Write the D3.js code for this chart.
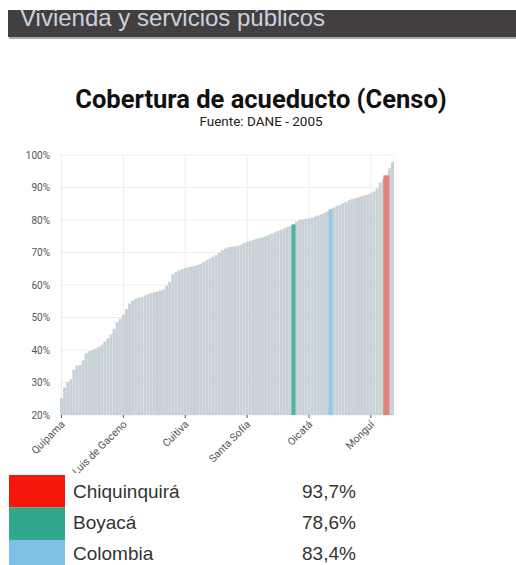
<!DOCTYPE html>
<html>
<head>
<meta charset="UTF-8">
<script src="https://d3js.org/d3.v7.min.js"></script>
<style>
  body { margin: 0; background: #fff; }
  svg { display: block; }
  text { font-family: Roboto, "Liberation Sans", sans-serif; }
</style>
</head>
<body>
<svg id="chart" width="516" height="565"></svg>
<script>
// coverage per municipality, sorted (percent)
const values = [
  25.2, 28.5, 30.2, 31.0, 34.0, 35.2, 35.4, 36.8, 39.0, 39.6,
  40.0, 40.4, 40.9, 41.6, 42.6, 43.6, 44.8, 46.5, 48.6, 49.6,
  50.8, 52.6, 54.3, 55.2, 55.8, 56.1, 56.3, 56.8, 57.2, 57.5,
  57.8, 58.0, 58.3, 58.6, 59.8, 61.0, 63.3, 64.0, 64.5, 64.9,
  65.2, 65.5, 65.7, 65.9, 66.1, 66.5, 67.1, 67.7, 68.2, 68.7,
  69.2, 69.9, 70.7, 71.2, 71.6, 71.8, 71.9, 72.0, 72.4, 72.9,
  73.3, 73.6, 73.9, 74.2, 74.4, 74.7, 75.0, 75.4, 75.8, 76.2,
  76.6, 77.0, 77.4, 77.8, 78.2, 78.6, 79.5, 80.0, 80.2, 80.4,
  80.5, 80.8, 81.1, 81.4, 81.8, 82.2, 82.7, 83.4, 83.8, 84.3,
  84.6, 85.1, 85.6, 86.1, 86.4, 86.7, 87.0, 87.3, 87.6, 87.9,
  88.2, 88.8, 89.7, 91.5, 92.6, 93.7, 95.9, 97.9
]

const tickNames = ['Quípama', 'San Luis de Gaceno', 'Cuítiva', 'Santa Sofía', 'Oicatá', 'Monguí']
const tickIndex = [0, 20, 40, 60, 80, 100]
const yTicks = [20, 30, 40, 50, 60, 70, 80, 90, 100]

const highlightNames = ['Chiquinquirá', 'Boyacá', 'Colombia']
const highlightIndex = [105, 75, 87]
const highlightLabels = ['93,7%', '78,6%', '83,4%']
const barColors = ['#e2827b', '#4db699', '#93cbe4']
const boxColors = ['#f5160c', '#30a88d', '#7cc0e6']

const svg = d3.select('#chart')

// header band
svg.append('clipPath').attr('id', 'hdr')
  .append('rect').attr('x', 8).attr('y', 10).attr('width', 508).attr('height', 27)
svg.append('rect')
  .attr('x', 9).attr('y', 12).attr('width', 507).attr('height', 27)
  .style('fill', '#aaa')
svg.append('rect')
  .attr('x', 8).attr('y', 10).attr('width', 508).attr('height', 27)
  .style('fill', '#433e40')
svg.append('text')
  .attr('clip-path', 'url(#hdr)')
  .attr('x', 20).attr('y', 26)
  .style('font-family', '"Liberation Sans", Arial, sans-serif')
  .style('font-size', '24px')
  .style('fill', '#c9d2de')
  .text('Vivienda y servicios públicos')

// titles
svg.append('text')
  .attr('x', 261).attr('y', 108)
  .attr('text-anchor', 'middle')
  .style('font-size', '25.5px').style('font-weight', 'bold').style('fill', '#111')
  .text('Cobertura de acueducto (Censo)')
svg.append('text')
  .attr('x', 261).attr('y', 126)
  .attr('text-anchor', 'middle')
  .style('font-size', '13.5px').style('fill', '#222')
  .text('Fuente: DANE - 2005')

// plot area
const plotLeft = 60, plotRight = 394, plotTop = 155, plotBottom = 415

const xScale = d3.scaleBand()
  .domain(d3.range(values.length))
  .range([plotLeft, plotRight])
  .paddingInner(0.03)

const yScale = d3.scaleLinear()
  .domain([20, 100])
  .range([plotBottom, plotTop])

svg.append('clipPath').attr('id', 'chartclip')
  .append('rect').attr('x', 0).attr('y', 40).attr('width', 516).attr('height', 433)

const g = svg.append('g').attr('clip-path', 'url(#chartclip)')

// gridlines
g.append('g').selectAll('line')
  .data(yTicks).enter().append('line')
  .attr('x1', plotLeft).attr('x2', plotRight)
  .attr('y1', d => yScale(d)).attr('y2', d => yScale(d))
  .style('stroke', '#ececec').style('stroke-width', 1)

g.append('g').selectAll('line')
  .data(tickIndex).enter().append('line')
  .attr('x1', d => xScale(d) + xScale.bandwidth() / 2)
  .attr('x2', d => xScale(d) + xScale.bandwidth() / 2)
  .attr('y1', plotTop).attr('y2', plotBottom)
  .style('stroke', '#ececec').style('stroke-width', 1)

// bars
g.append('g').selectAll('rect')
  .data(values).enter().append('rect')
  .attr('x', (d, i) => xScale(i))
  .attr('width', xScale.bandwidth())
  .attr('y', d => yScale(d))
  .attr('height', d => plotBottom - yScale(d))
  .style('fill', (d, i) => {
    const h = highlightIndex.indexOf(i)
    return h >= 0 ? barColors[h] : '#c8d1d6'
  })

// highlighted bars drawn a touch wider, as in the picture
g.append('g').selectAll('rect')
  .data(highlightIndex).enter().append('rect')
  .attr('x', (d, i) => xScale(d) - (i == 0 ? 1.5 : 0.5))
  .attr('width', (d, i) => xScale.bandwidth() + (i == 0 ? 3 : 1))
  .attr('y', d => yScale(values[d]))
  .attr('height', d => plotBottom - yScale(values[d]))
  .style('fill', (d, i) => barColors[i])

// y axis labels
g.append('g').selectAll('text')
  .data(yTicks).enter().append('text')
  .attr('x', 50).attr('y', d => yScale(d) + 3.5)
  .attr('text-anchor', 'end')
  .style('font-size', '10px').style('fill', '#555')
  .text(d => d + '%')

// x axis ticks + labels
g.append('g').selectAll('line')
  .data(tickIndex).enter().append('line')
  .attr('x1', d => xScale(d) + xScale.bandwidth() / 2)
  .attr('x2', d => xScale(d) + xScale.bandwidth() / 2)
  .attr('y1', plotBottom).attr('y2', plotBottom + 3)
  .style('stroke', '#555')

g.append('g').selectAll('text')
  .data(tickIndex).enter().append('text')
  .attr('transform', d => 'translate(' + (xScale(d) + xScale.bandwidth() / 2 + 4) + ',' + (plotBottom + 10) + ') rotate(-45)')
  .attr('text-anchor', 'end')
  .style('font-size', '10.5px').style('fill', '#555')
  .text((d, i) => tickNames[i])

// legend
const rowH = 32.5
const lg = svg.append('g')
lg.selectAll('rect')
  .data(highlightNames).enter().append('rect')
  .attr('x', 9).attr('y', (d, i) => 475 + i * rowH)
  .attr('width', 56).attr('height', rowH)
  .style('fill', (d, i) => boxColors[i])

lg.selectAll('text.name')
  .data(highlightNames).enter().append('text')
  .attr('class', 'name')
  .attr('x', 73).attr('y', (d, i) => 498 + i * 31)
  .style('font-family', '"Liberation Sans", Arial, sans-serif')
  .style('font-size', '19px').style('fill', '#333')
  .text(d => d)

lg.selectAll('text.val')
  .data(highlightLabels).enter().append('text')
  .attr('class', 'val')
  .attr('x', 302).attr('y', (d, i) => 498 + i * 31)
  .style('font-family', '"Liberation Sans", Arial, sans-serif')
  .style('font-size', '19px').style('fill', '#333')
  .text(d => d)
</script>
</body>
</html>
